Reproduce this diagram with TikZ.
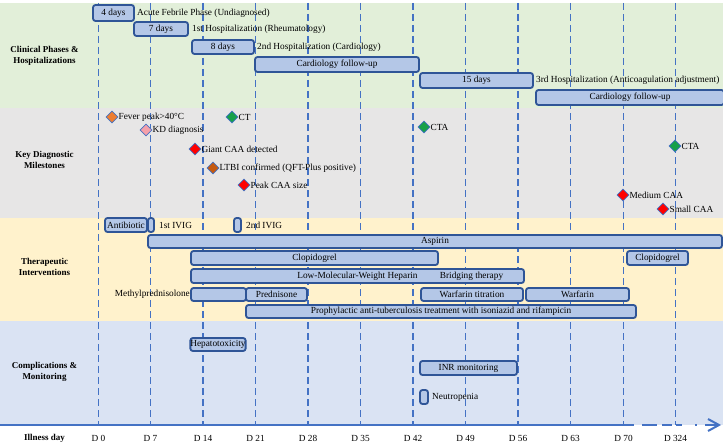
\documentclass[tikz,border=0pt]{standalone}
\usepackage{fontspec}
\setmainfont{Liberation Serif}
\usetikzlibrary{shapes.geometric}
\definecolor{bgGreen}{HTML}{E2EFD9}
\definecolor{bgGrey}{HTML}{E7E6E6}
\definecolor{bgYellow}{HTML}{FFF2CC}
\definecolor{bgBlue}{HTML}{DAE3F3}
\definecolor{lineBlue}{HTML}{4472C4}
\definecolor{barFill}{HTML}{B4C7E7}
\definecolor{barEdge}{HTML}{2F5597}
\definecolor{mOrange}{HTML}{ED7D31}
\definecolor{mPink}{HTML}{F4A0AA}
\definecolor{mGreen}{HTML}{16A04A}
\definecolor{mRed}{HTML}{FF0000}
\definecolor{mBrown}{HTML}{C55A11}
\newcommand\tbox[6]{\node[tbar, minimum width={(#4-#2)*1pt}, minimum height={(#5-#3)*1pt}] (#1) at ({(#2+#4)/2},{(#3+#5)/2}) {#6};}
\begin{document}
\begin{tikzpicture}[x=1pt,y=-1pt,
  every node/.style={font=\fontsize{9.3}{11}\selectfont, text=black},
  vline/.style={draw=lineBlue, line width=1.3pt, dash pattern=on 7pt off 4pt},
  tbar/.style={draw=barEdge, fill=barFill, line width=1.8pt, rounded corners=2.5pt, inner sep=0pt, rectangle},
  lab/.style={anchor=west, inner sep=0pt},
  rlab/.style={anchor=east, inner sep=0pt},
  mile/.style={diamond, draw=lineBlue, line width=0.8pt, inner sep=0pt, minimum width=12pt, minimum height=12pt},
  cat/.style={font=\bfseries\fontsize{9}{11}\selectfont, align=center},
  axisline/.style={draw=lineBlue, line width=2pt}
]
\useasboundingbox (0,0) rectangle (723,444);
% bands
\fill[bgGreen] (0,3) rectangle (723,107.5);
\fill[bgGrey] (0,107.5) rectangle (723,217.5);
\fill[bgYellow] (0,217.5) rectangle (723,321);
\fill[bgBlue] (0,321) rectangle (723,425);
% vertical day lines
\foreach \x in {98.5,150.5,203,255.5,308,360.5,413,465.5,518,570.5,623.5,675.5}
  \draw[vline] (\x,3) -- (\x,425);
% category labels
\node[cat] (cat1) at (44.5,56) {Clinical Phases \&\\Hospitalizations};
\node[cat] (cat2) at (44.5,160) {Key Diagnostic\\Milestones};
\node[cat] (cat3) at (44.5,267) {Therapeutic\\Interventions};
\node[cat] (cat4) at (44.5,372) {Complications \&\\Monitoring};
% clinical phases
\tbox{p1}{93}{5}{134}{21}{4 days}
\node[lab] (p1L) at (137,13) {Acute Febrile Phase (Undiagnosed)};
\tbox{p2}{134}{22}{188}{36}{7 days}
\node[lab] (p2L) at (192,29) {1st Hospitalization (Rheumatology)};
\tbox{p3}{192}{40}{254}{54}{8 days}
\node[lab] (p3L) at (257,47) {2nd Hospitalization (Cardiology)};
\tbox{p4}{255}{57}{419}{72}{Cardiology follow-up}
\tbox{p5}{420}{73}{533}{88}{15 days}
\node[lab] (p5L) at (536,80) {3rd Hospitalization (Anticoagulation adjustment)};
\tbox{p6}{536}{90}{724}{105}{Cardiology follow-up}
% milestones
\node[mile, fill=mOrange] (m1) at (112,117) {};
\node[lab] (m1L) at (m1.east) {Fever peak>40°C};
\node[mile, fill=mPink] (m2) at (146,130) {};
\node[lab] (m2L) at (m2.east) {KD diagnosis};
\node[mile, fill=mGreen] (m3) at (232,117) {};
\node[lab] (m3L) at (m3.east) {CT};
\node[mile, fill=mRed] (m4) at (195,149) {};
\node[lab] (m4L) at (m4.east) {Giant CAA detected};
\node[mile, fill=mBrown] (m5) at (213,168) {};
\node[lab] (m5L) at (m5.east) {LTBI confirmed (QFT-Plus positive)};
\node[mile, fill=mRed] (m6) at (244,185) {};
\node[lab] (m6L) at (m6.east) {Peak CAA size};
\node[mile, fill=mGreen] (m7) at (424,127) {};
\node[lab] (m7L) at (m7.east) {CTA};
\node[mile, fill=mGreen] (m8) at (675,146) {};
\node[lab] (m8L) at (m8.east) {CTA};
\node[mile, fill=mRed] (m9) at (623,195) {};
\node[lab] (m9L) at (m9.east) {Medium CAA};
\node[mile, fill=mRed] (m10) at (663,209) {};
\node[lab] (m10L) at (m10.east) {Small CAA};
% therapeutic
\tbox{t1}{105}{218}{147}{232}{Antibiotic}
\tbox{t2}{148}{218}{154}{232}{}
\node[lab] (t2L) at (159,225) {1st IVIG};
\tbox{t3}{234}{218}{241}{232}{}
\node[lab] (t3L) at (246,225) {2nd IVIG};
\tbox{t4}{148}{235}{722}{248}{Aspirin}
\tbox{t5}{191}{251}{438}{265}{Clopidogrel}
\tbox{t6}{627}{251}{688}{265}{Clopidogrel}
\tbox{t7}{191}{269}{524}{283}{Low-Molecular-Weight Heparin}
\node (t7b) at (471.5,276) {Bridging therapy};
\node[rlab] (t8L) at (190,294.5) {Methylprednisolone};
\tbox{t8}{191}{288}{246}{301}{}
\tbox{t9}{246}{288}{307}{301}{Prednisone}
\tbox{t10}{421}{288}{523}{301}{Warfarin titration}
\tbox{t11}{526}{288}{629}{301}{Warfarin}
\tbox{t12}{246}{305}{636}{318}{Prophylactic anti-tuberculosis treatment with isoniazid and rifampicin}
% complications
\tbox{c1}{191}{338}{245}{351}{Hepatotoxicity}
\tbox{c2}{420}{361}{517}{375}{INR monitoring}
\tbox{c3}{420}{390}{428}{404}{}
\node[lab] (c3L) at (432,397) {Neutropenia};
% axis
\coordinate (a0) at (0,425);
\coordinate (a1) at (634,425);
\coordinate (a2) at (705,425);
\coordinate (a3) at (719,425);
\draw[axisline] (a0) -- (a1);
\draw[axisline, dash pattern=on 0pt off 8pt on 15pt off 5pt on 10pt off 4pt on 6pt off 13pt on 2pt off 7pt] (a1) -- (a2);
\draw[axisline] (a2) -- (a3);
\coordinate (h1) at (708,419);
\coordinate (h2) at (708,431);
\draw[axisline, line join=miter] (h1) -- (a3) -- (h2);
% axis labels
\node[font=\bfseries\fontsize{9}{11}\selectfont] (ilab) at (44.5,438) {Illness day};
\foreach \x/\t in {98.5/D 0,150.5/D 7,203/D 14,255.5/D 21,308/D 28,360.5/D 35,413/D 42,465.5/D 49,518/D 56,570.5/D 63,623.5/D 70,675.5/D 324}
  \node (d\x) at (\x,438) {\t};
\end{tikzpicture}
\end{document}
